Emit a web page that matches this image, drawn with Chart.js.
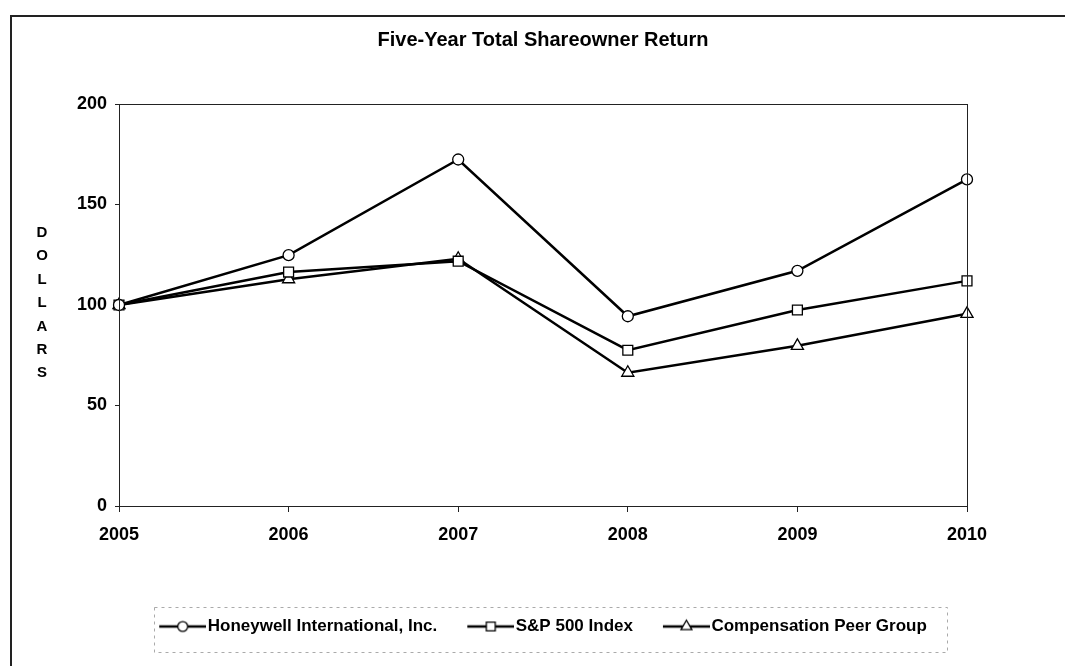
<!DOCTYPE html>
<html>
<head>
<meta charset="utf-8">
<script src="https://cdn.jsdelivr.net/npm/chart.js@4/dist/chart.umd.min.js"></script>
<style>
  html, body { margin: 0; padding: 0; background: #fff; }
  #wrap { position: relative; width: 1065px; height: 666px; overflow: hidden; }
  #frame { position: absolute; left: 10px; top: 15px; width: 1100px; height: 700px;
           border-top: 2px solid #222; border-left: 2px solid #222; }
  #c { position: absolute; left: 0; top: 0; }
  #ytitle { position: absolute; left: 35px; top: 220px; width: 14px; text-align: center;
            font: bold 15px "Liberation Sans", Arial, sans-serif; line-height: 23.4px;
            word-break: break-all; color: #000; }
</style>
</head>
<body>
<div id="wrap">
  <div id="frame"></div>
  <canvas id="c" width="1065" height="666"></canvas>
  <div id="ytitle">DOLLARS</div>
</div>
<script>
const chartTitle = 'Five-Year Total Shareowner Return';
const years = ['2005', '2006', '2007', '2008', '2009', '2010'];
const honeywell = [100, 124.8, 172.4, 94.4, 117.0, 162.5];
const sp500 = [100, 116.4, 121.8, 77.5, 97.5, 112.0];
const peerGroup = [100, 112.8, 123.0, 66.3, 79.7, 95.6];
const seriesNames = ['Honeywell International, Inc.', 'S&P 500 Index', 'Compensation Peer Group'];
const yTicks = [0, 50, 100, 150, 200];

const FONT = '"Liberation Sans", Arial, sans-serif';
const markerStyles = ['circle', 'rect', 'triangle'];
const markerRadius = [5.5, 7, 7];

// legend icon: 54px wide canvas, centred on the legend box (40px) -> visible sample
// drawn from canvas x=7 to x=54 so it starts at the item start and ends next to the text
function makeIcon(style, r) {
  const cv = document.createElement('canvas');
  cv.width = 54; cv.height = 18;
  const g = cv.getContext('2d');
  g.strokeStyle = '#000'; g.lineWidth = 2.5;
  g.beginPath(); g.moveTo(7, 9); g.lineTo(54, 9); g.stroke();
  g.fillStyle = '#fff'; g.lineWidth = 1.3;
  const cx = 30.5, cy = 9;
  g.beginPath();
  if (style === 'circle') {
    g.arc(cx, cy, r, 0, Math.PI * 2);
  } else if (style === 'rect') {
    const s = r * Math.SQRT1_2;
    g.rect(cx - s, cy - s, 2 * s, 2 * s);
  } else {
    g.moveTo(cx, cy - r);
    g.lineTo(cx + r * Math.sin(2 * Math.PI / 3), cy + r / 2);
    g.lineTo(cx - r * Math.sin(2 * Math.PI / 3), cy + r / 2);
    g.closePath();
  }
  g.fill(); g.stroke();
  return cv;
}
const legendIcons = markerStyles.map((s, i) => makeIcon(s, markerRadius[i] * 0.9));

const framePlugin = {
  id: 'framePlugin',
  afterDatasetsDraw(chart) {
    const a = chart.chartArea, ctx = chart.ctx;
    ctx.save();
    ctx.strokeStyle = '#222'; ctx.lineWidth = 1;
    ctx.strokeRect(Math.round(a.left) + 0.5, Math.round(a.top) + 0.5,
                   Math.round(a.right - a.left), Math.round(a.bottom - a.top));
    ctx.restore();
  },
  afterDraw(chart) {
    const lg = chart.legend;
    if (!lg || !lg.legendHitBoxes || !lg.legendHitBoxes.length) return;
    const hb = lg.legendHitBoxes;
    const x0 = Math.min(...hb.map(h => h.left)) - 5;
    const x1 = Math.max(...hb.map(h => h.left + h.width)) + 20;
    const cy = hb[0].top + hb[0].height / 2;
    const ctx = chart.ctx;
    ctx.save();
    ctx.strokeStyle = '#aaa'; ctx.lineWidth = 1;
    ctx.setLineDash([3, 4]);
    ctx.strokeRect(Math.round(x0) + 0.5, Math.round(cy - 20) + 0.5, Math.round(x1 - x0), 45);
    ctx.restore();
  }
};

function ds(label, data, i) {
  return {
    label, data,
    borderColor: '#000', borderWidth: 2.5, tension: 0,
    pointStyle: markerStyles[i], pointRadius: markerRadius[i], pointHoverRadius: markerRadius[i],
    pointBackgroundColor: '#fff', pointBorderColor: '#000', pointBorderWidth: 1.3,
    fill: false
  };
}

new Chart(document.getElementById('c'), {
  type: 'line',
  data: {
    labels: years,
    datasets: [
      ds(seriesNames[0], honeywell, 0),
      ds(seriesNames[1], sp500, 1),
      ds(seriesNames[2], peerGroup, 2)
    ]
  },
  options: {
    responsive: false,
    animation: false,
    events: [],
    layout: { padding: { left: 0, right: 98, top: 0, bottom: 21 } },
    plugins: {
      title: {
        display: true, text: chartTitle, fullSize: false, color: '#000',
        font: { family: FONT, size: 20, weight: 'bold' },
        padding: { top: 28, bottom: 52 }
      },
      legend: {
        display: true, position: 'bottom', fullSize: false,
        labels: {
          usePointStyle: true, pointStyleWidth: 40, padding: 30, color: '#000',
          font: { family: FONT, size: 17, weight: 'bold' },
          generateLabels(chart) {
            const items = Chart.defaults.plugins.legend.labels.generateLabels(chart);
            items.forEach((it, i) => { it.pointStyle = legendIcons[i]; });
            return items;
          }
        }
      },
      tooltip: { enabled: false }
    },
    scales: {
      x: {
        type: 'category', offset: false,
        grid: { display: true, drawOnChartArea: false, drawTicks: true, tickLength: 6, color: '#222' },
        border: { display: true, color: '#222' },
        ticks: { color: '#000', padding: 12, maxRotation: 0, font: { family: FONT, size: 18, weight: 'bold' } },
        afterFit(s) { s.height = 82; }
      },
      y: {
        min: 0, max: 200,
        afterBuildTicks(s) { s.ticks = yTicks.map(v => ({ value: v })); },
        grid: { display: true, drawOnChartArea: false, drawTicks: true, tickLength: 4, color: '#222' },
        border: { display: true, color: '#222' },
        ticks: { color: '#000', padding: 8, font: { family: FONT, size: 18, weight: 'bold' } },
        afterFit(s) { s.width = 119; }
      }
    }
  },
  plugins: [framePlugin]
});
</script>
</body>
</html>
